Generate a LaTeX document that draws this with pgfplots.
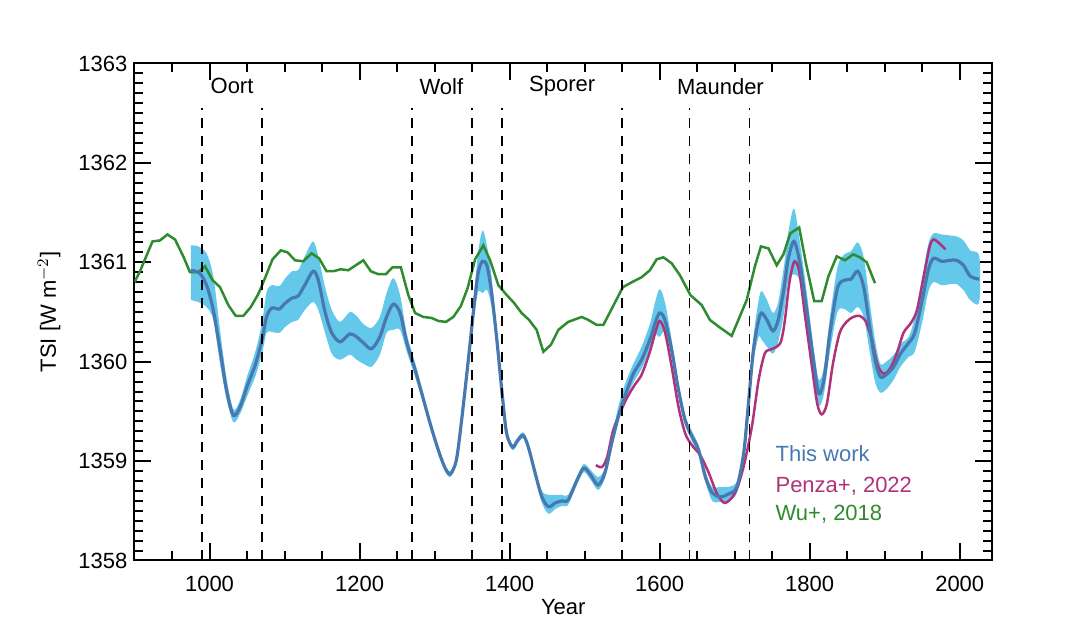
\documentclass[border=0pt]{standalone}
\usepackage{pgfplots}
\pgfplotsset{compat=1.18}
\usepackage{pgfplotstable}
\usepackage{fontspec}
\setmainfont{Liberation Sans}
\definecolor{bandc}{HTML}{64C8EB}
\definecolor{meanc}{HTML}{4878B0}
\definecolor{penzac}{HTML}{B03278}
\definecolor{wuc}{HTML}{2E8B2E}

% uncertainty band: upper edge forward in time, then lower edge backward
\pgfplotstableread{
yr v
975 1361.17
985 1361.16
996 1361.09
1005 1360.86
1014 1360.32
1023 1359.82
1032 1359.52
1041 1359.62
1050 1359.85
1061 1360.10
1070 1360.39
1076 1360.70
1083 1360.77
1093 1360.76
1101 1360.84
1110 1360.91
1118 1360.92
1127 1361.06
1138 1361.21
1145 1361.06
1154 1360.75
1163 1360.52
1174 1360.40
1187 1360.50
1196 1360.46
1205 1360.38
1216 1360.34
1227 1360.45
1236 1360.69
1245 1360.84
1254 1360.67
1263 1360.28
1274 1359.99
1283 1359.73
1294 1359.41
1305 1359.14
1314 1358.96
1321 1358.90
1329 1359.04
1336 1359.45
1345 1360.07
1352 1360.62
1358 1361.10
1364 1361.32
1370 1361.16
1376 1360.85
1383 1360.30
1390 1359.72
1396 1359.31
1404 1359.17
1410 1359.23
1418 1359.29
1425 1359.17
1434 1358.92
1443 1358.70
1452 1358.66
1461 1358.66
1470 1358.66
1478 1358.66
1490 1358.85
1499 1358.97
1508 1358.91
1518 1358.84
1527 1358.93
1536 1359.24
1545 1359.55
1554 1359.78
1565 1359.98
1576 1360.15
1587 1360.38
1594 1360.60
1600 1360.73
1607 1360.60
1616 1360.22
1625 1359.78
1634 1359.46
1643 1359.30
1652 1359.16
1661 1358.89
1670 1358.74
1681 1358.74
1692 1358.74
1703 1358.80
1712 1359.13
1718 1359.60
1725 1360.25
1732 1360.62
1736 1360.71
1743 1360.62
1751 1360.49
1758 1360.60
1766 1360.98
1771 1361.28
1779 1361.54
1787 1361.20
1796 1360.70
1805 1360.15
1812 1359.82
1819 1359.95
1827 1360.45
1837 1360.95
1846 1361.08
1855 1361.11
1864 1361.20
1872 1361.05
1880 1360.60
1887 1360.22
1894 1359.98
1902 1360.00
1912 1360.07
1921 1360.18
1932 1360.25
1940 1360.45
1950 1360.85
1958 1361.18
1965 1361.29
1976 1361.28
1987 1361.27
1996 1361.26
2005 1361.22
2014 1361.12
2026 1361.06
2026 1360.60
2014 1360.62
2005 1360.72
1996 1360.78
1987 1360.78
1976 1360.77
1965 1360.80
1958 1360.70
1950 1360.40
1940 1360.10
1932 1360.05
1921 1359.95
1912 1359.82
1902 1359.72
1894 1359.69
1887 1359.80
1880 1360.10
1872 1360.45
1864 1360.55
1855 1360.49
1846 1360.53
1837 1360.50
1827 1360.10
1819 1359.68
1812 1359.56
1805 1359.88
1796 1360.35
1787 1360.80
1779 1360.88
1771 1360.80
1766 1360.50
1758 1360.20
1751 1360.08
1743 1360.15
1736 1360.22
1732 1360.25
1725 1360.00
1718 1359.50
1712 1359.03
1703 1358.68
1692 1358.60
1681 1358.59
1670 1358.60
1661 1358.79
1652 1359.06
1643 1359.20
1634 1359.36
1625 1359.66
1616 1360.05
1607 1360.30
1600 1360.25
1594 1360.27
1587 1360.12
1576 1359.93
1565 1359.79
1554 1359.60
1545 1359.40
1536 1359.12
1527 1358.83
1518 1358.71
1508 1358.81
1499 1358.89
1490 1358.77
1478 1358.56
1470 1358.55
1461 1358.52
1452 1358.47
1443 1358.58
1434 1358.84
1425 1359.11
1418 1359.23
1410 1359.17
1404 1359.11
1396 1359.25
1390 1359.64
1383 1360.15
1376 1360.55
1370 1360.72
1364 1360.69
1358 1360.70
1352 1360.42
1345 1359.97
1336 1359.37
1329 1358.98
1321 1358.84
1314 1358.90
1305 1359.08
1294 1359.35
1283 1359.63
1274 1359.85
1263 1360.10
1254 1360.32
1245 1360.32
1236 1360.29
1227 1360.07
1216 1359.95
1205 1359.98
1196 1360.02
1187 1360.07
1174 1360.02
1163 1360.08
1154 1360.29
1145 1360.52
1138 1360.60
1127 1360.52
1118 1360.42
1110 1360.40
1101 1360.35
1093 1360.29
1083 1360.30
1076 1360.29
1070 1360.08
1061 1359.85
1050 1359.65
1041 1359.48
1032 1359.39
1023 1359.61
1014 1359.98
1005 1360.42
996 1360.55
985 1360.60
975 1360.62
}\band

\pgfplotstableread{
yr tsi
975 1360.92
985 1360.90
990 1360.86
997 1360.75
1005 1360.52
1014 1360.12
1023 1359.70
1032 1359.46
1041 1359.55
1050 1359.75
1061 1359.97
1070 1360.22
1076 1360.45
1083 1360.54
1093 1360.53
1101 1360.59
1110 1360.64
1118 1360.66
1127 1360.77
1138 1360.91
1145 1360.82
1154 1360.50
1163 1360.29
1174 1360.20
1187 1360.28
1196 1360.25
1205 1360.19
1216 1360.13
1227 1360.25
1236 1360.45
1245 1360.58
1254 1360.49
1263 1360.19
1274 1359.92
1283 1359.68
1294 1359.38
1305 1359.11
1314 1358.93
1321 1358.87
1329 1359.01
1336 1359.41
1345 1360.02
1352 1360.52
1358 1360.89
1364 1361.01
1370 1360.96
1376 1360.69
1383 1360.22
1390 1359.68
1396 1359.28
1404 1359.14
1410 1359.20
1418 1359.26
1425 1359.14
1434 1358.88
1443 1358.64
1452 1358.54
1461 1358.58
1470 1358.60
1478 1358.61
1490 1358.81
1499 1358.93
1508 1358.86
1518 1358.76
1527 1358.88
1536 1359.18
1545 1359.45
1554 1359.66
1565 1359.88
1576 1360.02
1587 1360.22
1594 1360.39
1600 1360.49
1607 1360.42
1616 1360.12
1625 1359.72
1634 1359.41
1643 1359.25
1652 1359.11
1661 1358.84
1670 1358.68
1681 1358.64
1692 1358.67
1703 1358.74
1712 1359.08
1718 1359.55
1725 1360.12
1732 1360.42
1736 1360.49
1743 1360.42
1751 1360.31
1758 1360.42
1766 1360.75
1771 1361.02
1779 1361.21
1787 1360.99
1796 1360.52
1805 1360.02
1812 1359.68
1819 1359.82
1827 1360.29
1837 1360.74
1846 1360.82
1855 1360.83
1864 1360.91
1872 1360.75
1880 1360.35
1887 1360.02
1894 1359.85
1902 1359.87
1912 1359.95
1921 1360.08
1932 1360.19
1940 1360.29
1950 1360.62
1958 1360.92
1965 1361.04
1976 1361.01
1987 1361.02
1996 1361.02
2005 1360.97
2014 1360.86
2026 1360.83
}\mean

\pgfplotstableread{
yr tsi
1515 1358.96
1523 1358.94
1530 1359.04
1538 1359.31
1547 1359.48
1556 1359.63
1567 1359.77
1576 1359.87
1587 1360.10
1594 1360.29
1600 1360.41
1607 1360.30
1616 1359.95
1625 1359.55
1634 1359.28
1643 1359.16
1654 1359.06
1665 1358.89
1676 1358.68
1686 1358.58
1696 1358.63
1704 1358.74
1713 1358.98
1723 1359.35
1732 1359.82
1740 1360.08
1747 1360.12
1756 1360.15
1762 1360.21
1767 1360.42
1772 1360.75
1776 1360.92
1780 1361.01
1786 1360.91
1794 1360.45
1803 1359.95
1810 1359.58
1816 1359.47
1823 1359.58
1831 1359.98
1840 1360.29
1849 1360.40
1858 1360.45
1867 1360.46
1875 1360.40
1883 1360.22
1890 1359.98
1898 1359.88
1907 1359.93
1916 1360.08
1925 1360.29
1935 1360.39
1943 1360.52
1952 1360.86
1960 1361.16
1965 1361.23
1973 1361.19
1981 1361.13
}\penza

\pgfplotstableread{
yr tsi
900 1360.80
907 1360.905
924 1361.21
934 1361.22
944 1361.28
954 1361.23
965 1361.06
974 1360.90
985 1360.90
994 1360.96
1004 1360.82
1014 1360.75
1025 1360.57
1035 1360.46
1045 1360.46
1055 1360.55
1065 1360.68
1075 1360.86
1084 1361.03
1095 1361.12
1104 1361.10
1114 1361.02
1125 1361.01
1136 1361.09
1146 1361.04
1156 1360.91
1165 1360.91
1175 1360.93
1185 1360.92
1205 1361.02
1215 1360.91
1225 1360.88
1235 1360.88
1244 1360.95
1255 1360.95
1265 1360.67
1274 1360.49
1285 1360.45
1296 1360.44
1305 1360.41
1315 1360.40
1325 1360.45
1335 1360.56
1344 1360.74
1354 1361.03
1365 1361.17
1374 1361.02
1385 1360.77
1395 1360.68
1406 1360.59
1416 1360.49
1426 1360.42
1436 1360.32
1445 1360.10
1455 1360.17
1465 1360.32
1478 1360.40
1496 1360.45
1505 1360.42
1516 1360.37
1525 1360.37
1538 1360.56
1551 1360.75
1563 1360.80
1576 1360.85
1587 1360.92
1596 1361.03
1605 1361.05
1616 1360.99
1627 1360.87
1641 1360.67
1656 1360.57
1667 1360.42
1681 1360.34
1696 1360.26
1716 1360.62
1727 1360.96
1735 1361.16
1745 1361.14
1756 1360.97
1765 1361.08
1774 1361.29
1786 1361.35
1795 1360.99
1806 1360.61
1816 1360.61
1825 1360.86
1836 1361.06
1847 1361.02
1858 1361.08
1867 1361.05
1876 1361.00
1887 1360.79
}\wu

\pgfplotstableread{
yr hi
990 1362.55
1070 1362.55
1270 1362.55
1350 1362.55
1390 1362.55
1550 1362.55
1640 1362.55
1720 1362.55
}\minima

\begin{document}
\begin{tikzpicture}
\begin{axis}[
  name=ax,
  scale only axis,
  width=428.75pt, height=248.5pt,
  xmin=900, xmax=2043, ymin=1358, ymax=1363,
  axis line style={line width=1pt},
  xtick={1000,1200,1400,1600,1800,2000},
  minor xtick={950,1050,1100,1150,1250,1300,1350,1450,1500,1550,1650,1700,1750,1850,1900,1950},
  ytick={1358,1359,1360,1361,1362,1363},
  minor y tick num=9,
  tick align=inside,
  major tick length=8.5pt,
  minor tick length=4.5pt,
  xtick style={black, line width=1pt},
  ytick style={black, line width=1pt},
  /pgf/number format/1000 sep={},
  /pgf/number format/assume math mode=true,
  tick label style={font=\fontsize{11}{13}\selectfont},
  xticklabel style={yshift=-4.5pt},
  xlabel={Year},
  ylabel={TSI [W m$^{-2}$]},
  label style={font=\fontsize{11}{13}\selectfont},
  xlabel style={at={(axis description cs:0.5,-0.0936)}, anchor=center},
  ylabel style={at={(axis description cs:-0.078,0.5)}, anchor=south},
  clip=true,
]
\addplot[fill=bandc, draw=none, smooth] table[x=yr, y=v]{\band} -- cycle;

\addplot[wuc, line width=1.25pt] table[x=yr, y=tsi]{\wu};
\addplot[penzac, line width=1.25pt, smooth] table[x=yr, y=tsi]{\penza};
\addplot[meanc, line width=1.6pt, smooth] table[x=yr, y=tsi]{\mean};

\addplot[black, line width=0.8pt, dash pattern=on 5pt off 4pt, ycomb] table[x=yr, y=hi]{\minima};

\node[font=\fontsize{11}{13}\selectfont] at (axis cs:1030,1362.77) {Oort};
\node[font=\fontsize{11}{13}\selectfont] at (axis cs:1309,1362.77) {Wolf};
\node[font=\fontsize{11}{13}\selectfont] at (axis cs:1470,1362.77) {Sporer};
\node[font=\fontsize{11}{13}\selectfont] at (axis cs:1681,1362.77) {Maunder};

\node[anchor=base west, inner sep=0pt, text=meanc, font=\fontsize{11}{13}\selectfont] at (axis cs:1754,1359.00) {This work};
\node[anchor=base west, inner sep=0pt, text=penzac, font=\fontsize{11}{13}\selectfont] at (axis cs:1754,1358.68) {Penza+, 2022};
\node[anchor=base west, inner sep=0pt, text=wuc, font=\fontsize{11}{13}\selectfont] at (axis cs:1754,1358.40) {Wu+, 2018};
\end{axis}
\pgfresetboundingbox
\path[use as bounding box] ([shift={(-67.25pt,-40.75pt)}]ax.south west) rectangle ([shift={(467.75pt,280.25pt)}]ax.south west);
\end{tikzpicture}
\end{document}
